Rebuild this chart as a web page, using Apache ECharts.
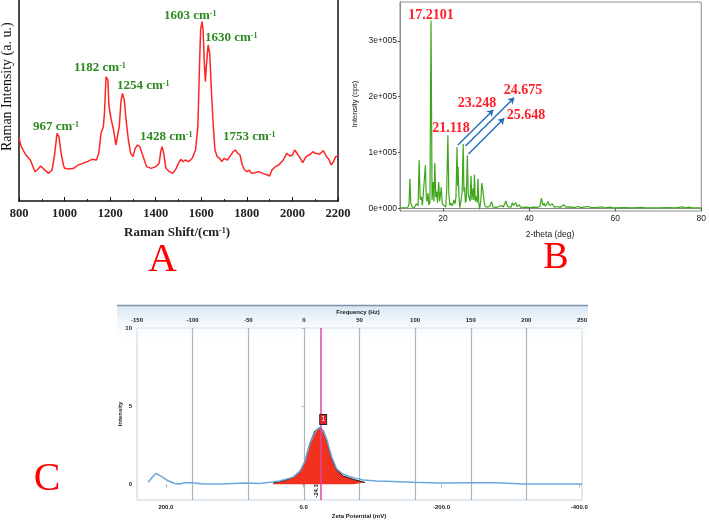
<!DOCTYPE html>
<html><head><meta charset="utf-8">
<script src="https://cdn.jsdelivr.net/npm/echarts@6/dist/echarts.min.js"></script>
<style>html,body{margin:0;padding:0;background:#fff}#c{width:709px;height:521px}</style>
</head><body><div id="c"></div>
<script>
// ---------- Panel A: Raman spectrum ----------
const ramanShift = [800,810,830,850,870,880,895,910,930,945,955,967,975,985,995,1000,1020,1040,1060,1080,1100,1120,1140,1150,1160,1170,1175,1182,1190,1195,1205,1215,1225,1232,1240,1248,1254,1262,1270,1280,1290,1300,1310,1320,1330,1340,1350,1360,1380,1400,1415,1422,1428,1435,1445,1460,1475,1490,1500,1510,1520,1530,1545,1560,1575,1585,1592,1597,1603,1608,1614,1618,1622,1630,1637,1645,1652,1660,1670,1680,1690,1700,1715,1725,1740,1750,1760,1770,1780,1790,1800,1810,1820,1835,1850,1870,1890,1900,1910,1925,1940,1960,1975,1990,2000,2010,2025,2035,2045,2060,2080,2090,2100,2120,2135,2150,2160,2170,2180,2190,2200];
const ramanIntensity = [188,163,138,123,88,93,105,95,83,93,133,203,193,143,108,98,96,98,108,113,118,125,123,143,203,223,263,373,363,283,243,213,168,163,223,303,323,303,243,183,143,133,158,168,163,143,123,103,98,103,113,148,163,143,98,88,83,98,113,125,118,123,118,128,153,223,403,513,538,513,403,358,403,468,443,323,233,153,133,128,118,128,123,133,148,153,143,138,108,93,88,93,83,85,88,83,78,75,93,103,108,123,143,135,138,153,138,128,115,133,141,148,143,141,151,133,125,108,118,133,135];
const ramanPeakLabels = ['967','1182','1254','1428','1603','1630','1753'];

// ---------- Panel B: XRD pattern ----------
const xrdPoints = [[10.0,500],[11.8,1000],[12.1,8000],[12.3,53000],[12.5,9000],[12.9,1500],[13.4,2000],[13.8,8000],[14.1,10000],[14.2,4000],[14.45,86000],[14.7,15000],[15.0,20000],[15.2,5000],[15.5,3000],[15.9,77000],[16.1,20000],[16.3,12000],[16.5,27000],[16.7,6000],[16.95,10000],[17.21,337000],[17.45,15000],[17.7,47000],[17.9,12000],[18.1,81000],[18.3,20000],[18.5,30000],[18.7,10000],[19.0,47000],[19.2,12000],[19.6,38000],[19.8,8000],[20.2,5000],[20.6,2000],[20.85,30000],[21.12,131000],[21.35,25000],[21.6,5000],[21.9,9000],[22.2,4000],[22.5,15000],[22.8,8000],[23.0,20000],[23.25,110000],[23.4,40000],[23.5,74000],[23.7,20000],[23.9,1000],[24.2,15000],[24.45,30000],[24.68,115000],[24.85,30000],[25.0,38000],[25.2,10000],[25.4,15000],[25.65,95000],[25.85,25000],[26.1,27000],[26.3,12000],[26.5,58000],[26.7,15000],[27.0,36000],[27.15,15000],[27.3,60000],[27.5,12000],[27.8,21000],[27.95,10000],[28.1,53000],[28.3,10000],[28.5,-2000],[28.8,15000],[29.0,45000],[29.2,35000],[29.35,38000],[29.6,10000],[29.8,3000],[30.3,2000],[30.8,3000],[31.3,12000],[31.6,2000],[31.9,4000],[32.4,1500],[33.0,3000],[33.5,5000],[34.0,2000],[34.6,13000],[35.0,3000],[35.4,4000],[35.8,2000],[36.1,10000],[36.4,5000],[36.9,10000],[37.2,3000],[37.7,6000],[38.0,2000],[38.3,5000],[38.8,1500],[39.5,2000],[40.2,1000],[41.0,2000],[41.8,1500],[42.5,3000],[42.85,18000],[43.2,5000],[43.5,9000],[43.8,3000],[44.4,12000],[44.7,5000],[45.0,4000],[45.4,8000],[45.8,2000],[46.5,3000],[47.2,1500],[48.1,6000],[48.5,2000],[49.5,2500],[50.5,1000],[51.3,3000],[52.0,1000],[53.0,2500],[53.8,3000],[54.5,1000],[55.5,1000],[57.0,2500],[57.5,500],[59.0,2000],[59.5,500],[62.0,1000],[64.0,500],[66.3,1500],[67.0,500],[70.0,800],[72.0,1200],[74.0,500],[75.8,2500],[76.3,500],[77.2,2000],[77.8,500],[80.0,800]];
const xrdPeakLabels = ['17.2101','21.118','23.248','24.675','25.648'];
const xrdYTickValues = [0,100000,200000,300000];
const xrdYTickLabels = ['0e+000','1e+005','2e+005','3e+005'];
const xrdXTickValues = [20,40,60,80];

// ---------- Panel C: Zeta potential ----------
const zetaCurve = [[226,0.13],[215,0.70],[206,0.49],[197,0.23],[187,0.06],[180,0.03],[173,0.10],[161,0.10],[146,0.03],[122,0.03],[102,0.06],[83,0.08],[64,0.06],[49,0.13],[35,0.21],[20,0.40],[15,0.48],[5.5,0.85],[-1.7,1.45],[-9,2.63],[-14,3.1],[-19,3.5],[-23.5,3.65],[-28,3.45],[-33.3,2.9],[-40.6,1.75],[-47.8,1.0],[-57,0.66],[-66,0.5],[-75,0.4],[-86,0.28],[-106,0.21],[-130,0.18],[-159,0.13],[-198,0.08],[-242,0.10],[-280,0.10],[-319,0.02],[-404,0.02]];
const zetaFit = [[44.3,0.08],[29.8,0.23],[15.3,0.45],[5.5,0.81],[-1.7,1.45],[-9,2.63],[-16,3.4],[-23.5,3.65],[-29,3.4],[-33.3,2.84],[-40.6,1.67],[-47.8,0.92],[-57.4,0.53],[-72,0.32],[-89,0.12]];
const zetaPeak = -24.3;
const zetaTickValues = [200,0,-200,-400];
const zetaIntensityTicks = [0,5,10];
const peakMarker = [-28.3, 4.15];

const SERIF = '"Liberation Serif","Times New Roman",serif';
const SANS = '"Liberation Sans",Arial,sans-serif';
const green = '#2a8a1e';

function ramanLabel(txt, x, y) {
  return { type:'text', x:x, y:y, z:50,
    style:{ text:'{b|' + txt + ' cm}{s|-1}', align:'left', verticalAlign:'middle',
      rich:{ b:{fontSize:13, fontWeight:'bold', fontFamily:SERIF, fill:green},
             s:{fontSize:8, fontWeight:'bold', fontFamily:SERIF, fill:green, verticalAlign:'top'} } } };
}
function redLabel(txt, x, y) {
  return { type:'text', x:x, y:y, z:50,
    style:{ text:txt, align:'center', verticalAlign:'middle', fontSize:14, fontWeight:'bold', fontFamily:SERIF, fill:'#ff1f2a' } };
}
function plainText(txt, x, y, size, opts) {
  return Object.assign({ type:'text', x:x, y:y, z:50,
    style:Object.assign({ text:txt, align:'center', verticalAlign:'middle', fontSize:size, fontFamily:SANS, fill:'#1a1a1a' }, (opts && opts.style) || {}) },
    opts && opts.rotation !== undefined ? {rotation: opts.rotation} : {});
}

const ramanLabelPos = [[33,127],[74,68],[117,86],[140,137],[164,16],[205,38],[223,137]];
const xrdLabelPos = [[431,15],[451,128],[477,103],[523,90],[526,115]];

const graphics = [
  // panel C header band
  { type:'rect', z:0, shape:{x:117, y:305, width:471, height:38},
    style:{ fill:{type:'linear', x:0, y:0, x2:0, y2:1, colorStops:[{offset:0,color:'#d4e5f4'},{offset:1,color:'rgba(255,255,255,0)'}]} } },
  { type:'line', z:1, shape:{x1:117, y1:305.5, x2:588, y2:305.5}, style:{stroke:'#7d93a8', lineWidth:1.5} },
  // A texts
  { type:'text', x:7.7, y:86.7, rotation:Math.PI/2, z:50,
    style:{ text:'Raman Intensity (a. u.)', align:'center', verticalAlign:'middle', fontSize:14, fontFamily:SERIF, fill:'#111' } },
  { type:'text', x:177, y:233, z:50,
    style:{ text:'{b|Raman Shift/(cm}{s|-1}{b|)}', align:'center', verticalAlign:'middle',
      rich:{ b:{fontSize:13, fontWeight:'bold', fontFamily:SERIF, fill:'#222'}, s:{fontSize:8, fontWeight:'bold', fontFamily:SERIF, fill:'#222', verticalAlign:'top'} } } },
  { type:'text', x:162.5, y:280, z:50, style:{ text:'A', align:'center', verticalAlign:'bottom', fontSize:40, fontFamily:SERIF, fill:'#ff0000' } },
  { type:'text', x:556, y:277, z:50, style:{ text:'B', align:'center', verticalAlign:'bottom', fontSize:38, fontFamily:SERIF, fill:'#ff0000' } },
  { type:'text', x:47, y:499, z:50, style:{ text:'C', align:'center', verticalAlign:'bottom', fontSize:40, fontFamily:SERIF, fill:'#ff0000' } },
  // B texts
  plainText('2-theta (deg)', 550, 235, 8.5),
  plainText('Intensity (cps)', 355, 104, 7.5, {rotation:Math.PI/2}),
  // C texts
  plainText('Frequency (Hz)', 358, 312.7, 6, {style:{fontWeight:'bold'}}),
  plainText('Intensity', 120.7, 414, 6, {rotation:Math.PI/2, style:{fontWeight:'bold'}}),
  plainText('Zeta Potential (mV)', 359, 516.5, 6, {style:{fontWeight:'bold'}}),
  plainText(String(zetaPeak.toFixed(1)), 316.3, 491, 6, {rotation:Math.PI/2, style:{fontWeight:'bold'}})
];
ramanPeakLabels.forEach((t,i)=>graphics.push(ramanLabel(t, ramanLabelPos[i][0], ramanLabelPos[i][1])));
xrdPeakLabels.forEach((t,i)=>graphics.push(redLabel(t, xrdLabelPos[i][0], xrdLabelPos[i][1])));

const chart = echarts.init(document.getElementById('c'), null, {renderer:'canvas'});
chart.setOption({
  animation:false,
  backgroundColor:'#ffffff',
  grid:[
    {left:19, top:0, width:319, height:201},
    {left:400, top:2, width:303, height:209, show:true, borderColor:'#8c8c8c', borderWidth:1},
    {left:137, top:328, width:445, height:172, show:true, borderColor:'#c4d4e0', borderWidth:1, backgroundColor:'transparent'}
  ],
  xAxis:[
    {gridIndex:0, type:'value', min:800, max:2200, interval:200,
     axisLine:{lineStyle:{color:'#111', width:1.5}},
     axisTick:{inside:true, length:4, lineStyle:{color:'#111'}},
     minorTick:{show:true, splitNumber:2, length:2, lineStyle:{color:'#111'}},
     axisLabel:{margin:6, fontSize:12.5, fontWeight:'bold', fontFamily:SERIF, color:'#222', formatter:v=>String(v)},
     splitLine:{show:false}},
    {gridIndex:1, type:'value', min:10, max:80,
     axisLine:{lineStyle:{color:'#8c8c8c'}},
     axisTick:{customValues:xrdXTickValues, length:3, lineStyle:{color:'#555'}},
     axisLabel:{customValues:xrdXTickValues, margin:3, fontSize:8.5, fontFamily:SANS, color:'#222', formatter:v=>String(v)},
     splitLine:{show:false}},
    {gridIndex:2, type:'value', inverse:true, min:-404, max:242, position:'bottom',
     axisLine:{show:false},
     axisTick:{customValues:zetaTickValues, length:3, lineStyle:{color:'#9fb3c2'}},
     axisLabel:{customValues:zetaTickValues, margin:4, fontSize:6, fontWeight:'bold', fontFamily:SANS, color:'#1a1a1a', formatter:v=>v.toFixed(1)},
     splitLine:{show:false}},
    {gridIndex:2, type:'value', min:-150, max:250, interval:50, position:'top',
     axisLine:{show:false}, axisTick:{show:false},
     axisLabel:{margin:5, fontSize:6, fontWeight:'bold', fontFamily:SANS, color:'#1a1a1a', formatter:v=>String(v)},
     splitLine:{show:true, showMinLine:false, showMaxLine:false, lineStyle:{color:'#a3b6c4', width:1.2}}}
  ],
  yAxis:[
    {gridIndex:0, type:'value', min:0, max:603,
     axisLine:{show:true, lineStyle:{color:'#111', width:1.5}}, axisTick:{show:false}, axisLabel:{show:false}, splitLine:{show:false}},
    {gridIndex:0, type:'value', min:0, max:603, position:'right',
     axisLine:{show:true, lineStyle:{color:'#111', width:1.5}}, axisTick:{show:false}, axisLabel:{show:false}, splitLine:{show:false}},
    {gridIndex:1, type:'value', min:-5000, max:370000,
     axisLine:{lineStyle:{color:'#8c8c8c'}},
     axisTick:{customValues:xrdYTickValues, length:2, lineStyle:{color:'#555'}},
     axisLabel:{customValues:xrdYTickValues, margin:3, fontSize:8.5, fontFamily:SANS, color:'#222',
       formatter:v=>xrdYTickLabels[Math.round(v/100000)]},
     splitLine:{show:false}},
    {gridIndex:2, type:'value', min:-1, max:10,
     axisLine:{show:false},
     axisTick:{customValues:zetaIntensityTicks, length:2, lineStyle:{color:'#9fb3c2'}},
     axisLabel:{customValues:zetaIntensityTicks, margin:5, fontSize:6, fontWeight:'bold', fontFamily:SANS, color:'#1a1a1a'},
     splitLine:{show:false}}
  ],
  series:[
    {type:'line', xAxisIndex:0, yAxisIndex:0, showSymbol:false, symbol:'none',
     lineStyle:{color:'#ff2525', width:1.5},
     data:ramanShift.map((x,i)=>[x, ramanIntensity[i]])},
    {type:'line', xAxisIndex:1, yAxisIndex:2, showSymbol:false, symbol:'none',
     lineStyle:{color:'#3fa51b', width:1.2},
     data:xrdPoints,
     markLine:{silent:true, symbol:['none','arrow'], symbolSize:6, label:{show:false},
       lineStyle:{color:'#1f6db5', width:1.4, type:'solid'},
       data:[
         [{coord:[23.45,113300]},{coord:[31.68,176300]}],
         [{coord:[25.22,111500]},{coord:[36.53,198400]}],
         [{coord:[25.92,97100]},{coord:[34.22,161300]}]
       ]}},
    {type:'line', xAxisIndex:2, yAxisIndex:3, showSymbol:false, symbol:'none', z:3,
     lineStyle:{color:'#1a1a1a', width:1},
     areaStyle:{color:'#f2321f', opacity:1, origin:0},
     data:zetaFit},
    {type:'line', xAxisIndex:2, yAxisIndex:3, showSymbol:false, symbol:'none', z:4,
     lineStyle:{color:'#6aa6dc', width:1.5},
     data:zetaCurve,
     markLine:{silent:true, symbol:'none', label:{show:false},
       lineStyle:{color:'#e0479e', width:1.5, type:'solid'},
       data:[{xAxis:zetaPeak}]},
     markPoint:{silent:true, data:[{coord:peakMarker, symbol:'rect', symbolSize:[7,10],
       itemStyle:{color:'#e0242a', borderColor:'#222', borderWidth:1},
       label:{show:true, formatter:'1', position:'inside', fontSize:7, color:'#fff'}}]}}
  ],
  graphic:{elements:graphics}
});
</script>
</body></html>
